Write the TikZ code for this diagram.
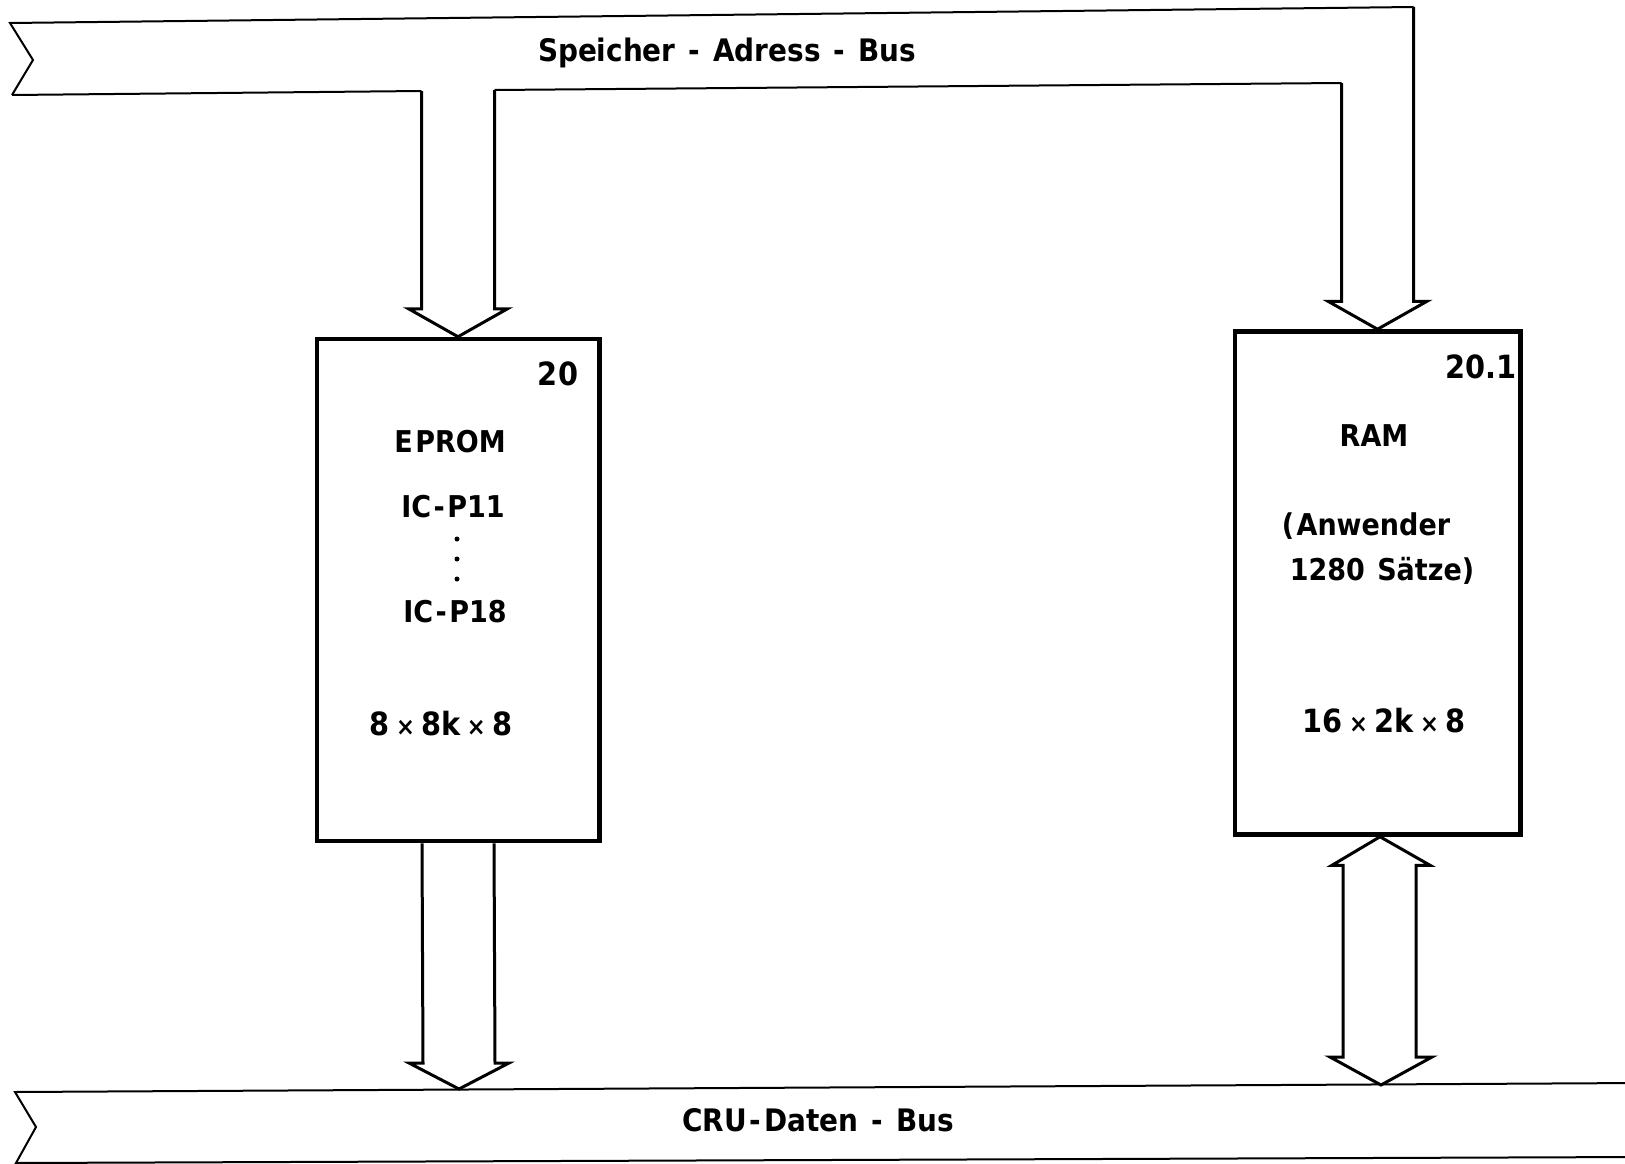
\documentclass[tikz,border=0pt]{standalone}
\usepackage{fontspec}
\usetikzlibrary{calc}
\newfontfamily\din{DejaVu Sans Condensed}
\newcommand{\tms}{\hspace{0.2em}{\fontsize{25}{25}\selectfont ×}\hspace{0.2em}}
\newcommand{\bsep}{\hspace{0.42em}-\hspace{0.42em}}
\begin{document}
\begin{tikzpicture}[x=1pt,y=-1pt,
  bus/.style={line width=2pt,line join=miter},
  arr/.style={line width=3pt,line join=miter},
  box/.style={draw,line width=4.5pt,inner sep=0pt},
  lbl/.style={inner sep=0pt,anchor=base,font=\din\bfseries\fontsize{30}{30}\selectfont},
  numlbl/.style={inner sep=0pt,anchor=base,font=\din\bfseries\fontsize{32}{32}\selectfont},
  buslbl/.style={inner sep=0pt,anchor=base,font=\din\bfseries\fontsize{31}{31}\selectfont}]
\useasboundingbox (0,0) rectangle (1625,1164);
\fill[white] (0,0) rectangle (1625,1164);
% boxes
\node[box,minimum width=282.5pt,minimum height=502pt] (eprom) at (458,590) {};
\node[box,minimum width=285.5pt,minimum height=503pt] (ram) at (1377.5,583) {};
% top bus (Speicher-Adress-Bus)
\coordinate (abTL) at (10,23);
\coordinate (abN) at (33,60);
\coordinate (abBL) at (12,95);
\coordinate (eA) at (421.5,91);
\coordinate (eB) at (494.5,90);
\coordinate (rA) at (1341.5,83);
\coordinate (rB) at (1413.5,7);
\draw[bus] (abBL) -- (abN) -- (abTL) -- (rB);
\draw[bus] (abBL) -- (eA);
\draw[bus] (eB) -- (rA);
\draw[arr] (eA) -- ($(eprom.north)+(-36.5,-28)$) -- ($(eprom.north)+(-49.5,-28)$) -- (eprom.north)
  -- ($(eprom.north)+(49.5,-28)$) -- ($(eprom.north)+(36.5,-28)$) -- (eB);
\draw[arr] (rA) -- ($(ram.north)+(-36,-28)$) -- ($(ram.north)+(-49.5,-28)$) -- (ram.north)
  -- ($(ram.north)+(49.5,-28)$) -- ($(ram.north)+(36,-28)$) -- (rB);
% bottom bus (CRU-Daten-Bus)
\coordinate (bbTL) at (15,1092);
\coordinate (bbN) at (36,1127);
\coordinate (bbBL) at (16,1163);
\coordinate (bbTR) at (1640,1083);
\coordinate (bbBR) at (1640,1157);
\draw[bus] (bbTR) -- (bbTL) -- (bbN) -- (bbBL) -- (bbBR);
% EPROM -> CRU bus
\coordinate (eT) at (459,1089);
\draw[arr] ($(eprom.south)+(-36,0)$) -- ($(eT)+(-36,-26)$) -- ($(eT)+(-50,-26)$) -- (eT)
  -- ($(eT)+(50,-26)$) -- ($(eT)+(36,-26)$) -- ($(eprom.south)+(36,0)$);
% RAM <-> CRU bus
\coordinate (rS) at ($(ram.south)+(2.5,0)$);
\coordinate (rT) at (1381,1085);
\draw[arr] (rS) -- ($(rS)+(-48,28.5)$) -- ($(rS)+(-37,28.5)$) -- ($(rT)+(-38,-28)$) -- ($(rT)+(-51,-28)$)
  -- (rT) -- ($(rT)+(51,-28)$) -- ($(rT)+(35,-28)$) -- ($(rS)+(36,28.5)$) -- ($(rS)+(50,28.5)$) -- cycle;
% labels
\node[buslbl] (tAdr) at (727,62) {Speicher\bsep Adress\bsep Bus};
\node[buslbl] (tCru) at (818,1131) {CRU\hspace{0.1em}-\hspace{0.1em}Daten\bsep Bus};
\node[numlbl] (tE0) at (558,385) {20};
\node[lbl] (tE1) at (450,452) {E\hspace{0.08em}PROM};
\node[lbl] (tE2) at (453,517) {IC\hspace{0.08em}-\hspace{0.08em}P11};
\node[lbl] (tE3) at (455,622) {IC\hspace{0.08em}-\hspace{0.08em}P18};
\node[numlbl] (tE4) at (441,735) {8\tms 8k\tms 8};
\fill (457,539) circle (2.5) (457,559) circle (2.5) (457,579) circle (2.5);
\node[numlbl] (tR0) at (1481,378) {20.1};
\node[lbl] (tR1) at (1374,446) {RAM};
\node[lbl] (tR2) at (1366,535) {(\hspace{0.08em}Anwender};
\node[lbl] (tR3) at (1382,580) {1280\hspace{0.1em} Sätze)};
\node[numlbl] (tR4) at (1384,732) {16\tms 2k\tms 8};
\end{tikzpicture}
\end{document}
